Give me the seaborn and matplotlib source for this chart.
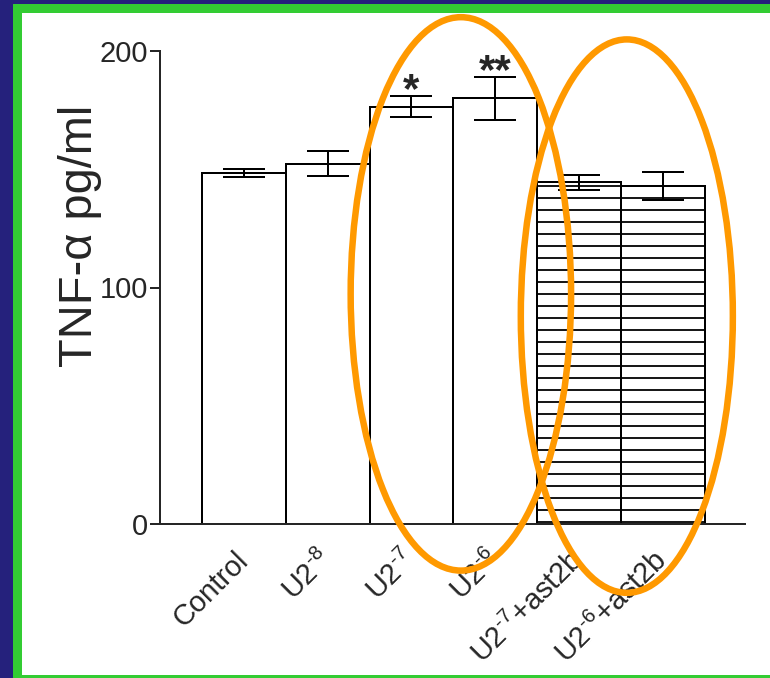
import numpy as np
import matplotlib
matplotlib.use('Agg')
import matplotlib.pyplot as plt
from matplotlib.patches import Ellipse, Rectangle
import seaborn as sns

# data
groups = ['Control', 'U2$^{\\text{-8}}$', 'U2$^{\\text{-7}}$', 'U2$^{\\text{-6}}$',
          'U2$^{\\text{-7}}$+ast2b', 'U2$^{\\text{-6}}$+ast2b']
tnf_mean = [148.5, 152.4, 176.4, 180.0, 144.5, 142.9]
tnf_sd = [1.7, 5.2, 4.5, 9.0, 3.2, 6.0]
sig_marks = ['', '', '*', '**', '', '']
hatched = [False, False, False, False, True, True]

sns.set_style('ticks')
plt.rcParams['font.family'] = ['Liberation Sans', 'DejaVu Sans']
plt.rcParams['mathtext.fontset'] = 'custom'
plt.rcParams['mathtext.rm'] = 'Liberation Sans'
plt.rcParams['mathtext.it'] = 'Liberation Sans:italic'
plt.rcParams['hatch.linewidth'] = 1.8

W, H = 770, 678
fig = plt.figure(figsize=(W / 72, H / 72), dpi=72)
fig.patch.set_facecolor('white')

# slide frame
blue, green = '#25217C', '#33CC33'
fig.patches.extend([
    Rectangle((0, 0), 13 / W, 1, transform=fig.transFigure, color=blue, zorder=-5),
    Rectangle((0, 1 - 4 / H), 1, 4 / H, transform=fig.transFigure, color=blue, zorder=-5),
    Rectangle((13 / W, 0), 8 / W, 1 - 4 / H, transform=fig.transFigure, color=green, zorder=-4),
    Rectangle((13 / W, 1 - 12 / H), 1, 8 / H, transform=fig.transFigure, color=green, zorder=-4),
    Rectangle((13 / W, 0), 1, 3 / H, transform=fig.transFigure, color=green, zorder=-4),
])

ax = fig.add_axes([160 / W, 1 - 524 / H, 585 / W, 473 / H])
ax.set_facecolor('none')

sns.barplot(x=groups, y=tnf_mean, color='white', edgecolor='black', linewidth=2,
            width=1.0, errorbar=None, saturation=1, ax=ax)
for bar, h in zip(ax.patches, hatched):
    bar.set_facecolor('white')
    if h:
        bar.set_hatch('-')

xpos = np.arange(len(groups))
ax.errorbar(xpos, tnf_mean, yerr=tnf_sd, fmt='none', ecolor='black',
            elinewidth=2, capsize=21, capthick=2, zorder=5)

for i, mark in enumerate(sig_marks):
    if mark:
        ax.annotate(mark, (xpos[i], tnf_mean[i] + tnf_sd[i]), xytext=(0, -15),
                    textcoords='offset points', ha='center', va='bottom',
                    fontsize=42, fontweight='bold')

ax.set_xlim(-1.0, 5.98)
ax.set_ylim(0, 200)
ax.set_yticks([0, 100, 200])
ax.set_ylabel('TNF-α pg/ml', fontsize=47)
ax.yaxis.set_label_coords(-0.1, 0.61)
ax.set_xlabel('')
ax.tick_params(axis='y', length=10, width=2, labelsize=29, pad=2)
ax.tick_params(axis='x', length=0, labelsize=29, pad=32)
plt.setp(ax.get_xticklabels(), rotation=45, ha='right', va='center',
         rotation_mode='anchor')
sns.despine(ax=ax)
for s in ('left', 'bottom'):
    ax.spines[s].set_linewidth(2)

# orange highlight ellipses
for cx, cy, w, h in [(2.59, 97.3, 2.63, 234), (4.57, 87.9, 2.53, 234)]:
    ax.add_patch(Ellipse((cx, cy), w, h, fill=False, edgecolor='#FF9900',
                         linewidth=6.5, clip_on=False, zorder=10))

fig.savefig('out.png', dpi=72)
